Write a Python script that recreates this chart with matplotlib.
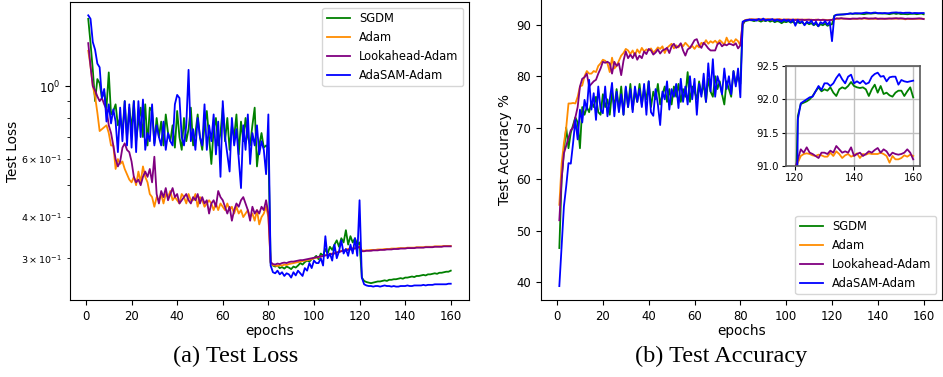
import matplotlib
matplotlib.use("Agg")
import matplotlib.pyplot as plt

epochs = list(range(1, 161))
labels = ["SGDM", "Adam", "Lookahead-Adam", "AdaSAM-Adam"]
colors = ["green", "darkorange", "purple", "blue"]

sgdm_loss = [
    1.60, 1.35, 1.12, 0.90, 1.05, 1.02, 0.92, 0.96, 0.86, 1.10,
    0.82, 0.84, 0.88, 0.76, 0.80, 0.72, 0.90, 0.70, 0.86, 0.74,
    0.90, 0.68, 0.78, 0.86, 0.70, 0.88, 0.66, 0.86, 0.84, 0.67,
    0.80, 0.70, 0.78, 0.66, 0.82, 0.72, 0.68, 0.76, 0.65, 0.84,
    0.70, 0.64, 0.80, 0.68, 0.74, 0.86, 0.66, 0.72, 0.82, 0.70,
    0.64, 0.76, 0.84, 0.70, 0.58, 0.74, 0.80, 0.66, 0.72, 0.86,
    0.68, 0.80, 0.64, 0.76, 0.70, 0.82, 0.62, 0.78, 0.68, 0.80,
    0.70, 0.66, 0.76, 0.86, 0.57, 0.66, 0.72, 0.65, 0.66, 0.65,
    0.290, 0.285, 0.283, 0.285, 0.280, 0.282, 0.279, 0.283, 0.281, 0.278,
    0.283, 0.281, 0.285, 0.290, 0.287, 0.292, 0.295, 0.293, 0.298, 0.300,
    0.305, 0.298, 0.310, 0.305, 0.320, 0.310, 0.325, 0.318, 0.330, 0.340,
    0.325, 0.345, 0.335, 0.365, 0.330, 0.350, 0.335, 0.345, 0.330, 0.335,
    0.262, 0.256, 0.254, 0.253, 0.252, 0.253, 0.254, 0.255, 0.255, 0.256,
    0.257, 0.256, 0.258, 0.258, 0.259, 0.259, 0.260, 0.261, 0.260, 0.262,
    0.262, 0.263, 0.264, 0.263, 0.265, 0.265, 0.266, 0.267, 0.266, 0.268,
    0.268, 0.269, 0.270, 0.269, 0.271, 0.271, 0.272, 0.273, 0.273, 0.275,
]
adam_loss = [
    1.28, 1.15, 1.00, 0.93, 0.83, 0.73, 0.74, 0.75, 0.76, 0.72,
    0.66, 0.66, 0.56, 0.60, 0.58, 0.59, 0.56, 0.54, 0.52, 0.51,
    0.53, 0.50, 0.55, 0.51, 0.57, 0.53, 0.51, 0.47, 0.46, 0.43,
    0.46, 0.45, 0.47, 0.44, 0.47, 0.46, 0.48, 0.45, 0.46, 0.45,
    0.44, 0.47, 0.46, 0.44, 0.47, 0.45, 0.45, 0.47, 0.43, 0.46,
    0.45, 0.43, 0.44, 0.45, 0.44, 0.42, 0.44, 0.42, 0.44, 0.43,
    0.42, 0.44, 0.42, 0.43, 0.41, 0.43, 0.41, 0.42, 0.40, 0.41,
    0.42, 0.40, 0.41, 0.39, 0.42, 0.38, 0.40, 0.41, 0.43, 0.40,
    0.290, 0.286, 0.285, 0.284, 0.286, 0.285, 0.287, 0.286, 0.288, 0.289,
    0.290, 0.291, 0.292, 0.293, 0.294, 0.295, 0.296, 0.297, 0.298, 0.300,
    0.301, 0.302, 0.303, 0.305, 0.306, 0.307, 0.309, 0.310, 0.311, 0.313,
    0.314, 0.316, 0.317, 0.319, 0.320, 0.321, 0.322, 0.324, 0.325, 0.326,
    0.317, 0.316, 0.317, 0.317, 0.318, 0.318, 0.318, 0.319, 0.319, 0.319,
    0.320, 0.320, 0.320, 0.321, 0.321, 0.321, 0.322, 0.322, 0.322, 0.322,
    0.323, 0.323, 0.323, 0.323, 0.324, 0.324, 0.324, 0.324, 0.325, 0.325,
    0.325, 0.325, 0.326, 0.326, 0.326, 0.326, 0.327, 0.327, 0.327, 0.327,
]
lookahead_loss = [
    1.35, 1.15, 1.00, 0.97, 0.93, 0.90, 0.92, 0.88, 0.85, 0.76,
    0.72, 0.66, 0.60, 0.57, 0.59, 0.65, 0.67, 0.64, 0.63, 0.59,
    0.53, 0.51, 0.52, 0.50, 0.53, 0.55, 0.53, 0.56, 0.51, 0.61,
    0.47, 0.44, 0.48, 0.46, 0.49, 0.45, 0.47, 0.49, 0.46, 0.47,
    0.44, 0.45, 0.46, 0.47, 0.45, 0.44, 0.46, 0.45, 0.47, 0.44,
    0.46, 0.44, 0.45, 0.41, 0.44, 0.45, 0.43, 0.48, 0.46, 0.45,
    0.43, 0.41, 0.43, 0.39, 0.42, 0.44, 0.43, 0.45, 0.46, 0.44,
    0.42, 0.39, 0.43, 0.41, 0.42, 0.41, 0.43, 0.42, 0.45, 0.41,
    0.292, 0.288, 0.287, 0.289, 0.288, 0.290, 0.291, 0.290, 0.292, 0.293,
    0.293, 0.294, 0.295, 0.296, 0.296, 0.297, 0.298, 0.299, 0.300, 0.301,
    0.302, 0.303, 0.304, 0.305, 0.306, 0.307, 0.308, 0.309, 0.310, 0.312,
    0.313, 0.315, 0.316, 0.317, 0.318, 0.319, 0.320, 0.321, 0.322, 0.325,
    0.315, 0.315, 0.316, 0.316, 0.316, 0.317, 0.317, 0.317, 0.318, 0.318,
    0.318, 0.319, 0.319, 0.319, 0.320, 0.320, 0.320, 0.321, 0.321, 0.321,
    0.322, 0.322, 0.322, 0.322, 0.323, 0.323, 0.323, 0.323, 0.324, 0.324,
    0.324, 0.324, 0.325, 0.325, 0.325, 0.325, 0.326, 0.326, 0.326, 0.326,
]
adasam_loss = [
    1.64, 1.60, 1.36, 1.29, 1.17, 1.14, 0.92, 0.98, 0.78, 0.88,
    0.77, 0.85, 0.78, 0.63, 0.86, 0.68, 0.90, 0.66, 0.88, 0.65,
    0.90, 0.63, 0.90, 0.70, 0.91, 0.64, 0.72, 0.68, 0.88, 0.66,
    0.76, 0.70, 0.66, 0.78, 0.64, 0.72, 0.68, 0.66, 0.88, 0.94,
    0.92, 0.70, 0.66, 0.76, 1.12, 0.68, 0.74, 0.64, 0.80, 0.70,
    0.66, 0.88, 0.64, 0.76, 0.68, 0.82, 0.62, 0.78, 0.53, 0.90,
    0.70, 0.62, 0.55, 0.80, 0.66, 0.74, 0.60, 0.49, 0.76, 0.64,
    0.82, 0.58, 0.72, 0.66, 0.76, 0.62, 0.68, 0.64, 0.54, 0.82,
    0.285, 0.272, 0.270, 0.275, 0.268, 0.272, 0.265, 0.270, 0.268, 0.262,
    0.272, 0.266, 0.275, 0.270, 0.265, 0.280, 0.275, 0.290, 0.280, 0.295,
    0.290, 0.290, 0.300, 0.285, 0.350, 0.300, 0.310, 0.295, 0.330, 0.300,
    0.315, 0.340, 0.310, 0.320, 0.305, 0.330, 0.310, 0.345, 0.305, 0.450,
    0.262, 0.250, 0.248, 0.247, 0.247, 0.246, 0.247, 0.247, 0.246, 0.247,
    0.248, 0.247, 0.247, 0.246, 0.247, 0.246, 0.246, 0.247, 0.247, 0.247,
    0.248, 0.247, 0.247, 0.248, 0.248, 0.248, 0.248, 0.249, 0.248, 0.249,
    0.249, 0.249, 0.250, 0.250, 0.250, 0.250, 0.250, 0.250, 0.251, 0.251,
]

sgdm_acc = [
    46.6, 60.0, 65.5, 70.0, 66.0, 69.0, 70.5, 72.0, 71.0, 66.0,
    74.0, 72.5, 74.0, 73.0, 75.0, 74.0, 76.0, 73.0, 72.5, 76.5,
    74.0, 75.5, 72.5, 77.0, 74.0, 77.5, 73.5, 78.0, 72.5, 77.8,
    74.0, 78.5, 73.5, 77.0, 75.0, 78.5, 74.5, 77.5, 75.5, 79.0,
    74.0, 77.0, 75.5, 78.5, 74.5, 76.5, 78.0, 75.0, 77.5, 74.5,
    78.0, 76.0, 78.5, 75.0, 77.5, 76.0, 80.8, 75.0, 78.0, 77.0,
    75.5, 79.0, 76.5, 78.5, 75.0, 79.5, 77.0, 76.0, 80.0, 77.5,
    79.0, 76.5, 74.5, 79.0, 77.5, 76.0, 81.0, 78.5, 80.0, 78.5,
    90.0, 90.7, 90.8, 90.9, 90.85, 90.7, 90.9, 90.8, 90.6, 90.85,
    90.7, 90.9, 90.6, 90.8, 90.5, 90.7, 90.6, 90.3, 90.6, 90.5,
    90.7, 90.4, 90.6, 90.2, 90.5, 90.3, 90.5, 90.0, 90.4, 90.1,
    90.3, 89.9, 90.2, 89.7, 90.1, 89.9, 90.2, 89.8, 90.0, 90.1,
    91.75, 91.93, 91.95, 91.97, 92.00, 92.05, 92.12, 92.18, 92.12, 92.15,
    92.13, 92.18, 92.10, 92.05, 92.15, 92.18, 92.16, 92.20, 92.26, 92.20,
    92.18, 92.17, 92.18, 92.15, 92.05, 92.15, 92.22, 92.10, 92.20, 92.08,
    92.10, 92.06, 92.04, 92.10, 92.13, 92.13, 92.05, 92.12, 92.18, 92.03,
]
adam_acc = [
    55.0, 63.0, 67.0, 70.0, 74.7, 74.7, 74.8, 74.7, 76.0, 78.0,
    78.2, 80.0, 81.0, 80.5, 80.5, 81.0, 80.8, 82.0, 82.5, 83.2,
    83.0, 82.5, 80.8, 83.6, 81.5, 82.0, 83.0, 84.0, 84.5, 85.3,
    85.0, 84.3, 85.0, 84.0, 85.2, 84.5, 85.5, 84.8, 85.2, 85.0,
    85.4, 84.6, 85.0, 85.6, 85.3, 85.8, 84.5, 85.5, 85.9, 86.3,
    85.4, 86.0, 85.6, 86.3, 85.8, 86.5, 86.0, 85.5, 85.9, 85.3,
    86.0, 85.6, 86.5, 86.2, 87.0, 86.3, 86.8, 86.5, 86.9, 86.4,
    87.0, 86.6, 86.1, 87.5, 86.5, 87.0, 86.5, 87.2, 86.8, 86.0,
    90.4, 90.9, 91.0, 91.0, 91.1, 91.0, 91.05, 91.0, 91.1, 91.0,
    91.05, 91.1, 91.0, 90.95, 91.05, 91.0, 91.1, 91.0, 90.95, 91.05,
    91.0, 91.0, 90.95, 91.05, 91.0, 91.0, 90.95, 91.0, 91.0, 90.95,
    91.0, 90.9, 91.0, 90.95, 90.9, 91.0, 90.95, 90.9, 90.95, 90.95,
    91.05, 91.15, 91.18, 91.19, 91.18, 91.16, 91.15, 91.17, 91.16, 91.14,
    91.14, 91.20, 91.15, 91.22, 91.18, 91.12, 91.16, 91.18, 91.14, 91.16,
    91.19, 91.12, 91.18, 91.17, 91.19, 91.18, 91.18, 91.18, 91.20, 91.18,
    91.15, 91.05, 91.15, 91.10, 91.10, 91.12, 91.16, 91.14, 91.17, 91.15,
]
lookahead_acc = [
    52.0, 60.0, 65.0, 66.5, 68.0, 69.5, 70.0, 72.0, 74.0, 78.0,
    79.5, 79.8, 80.5, 78.0, 78.5, 79.0, 79.3, 80.5, 81.5, 82.8,
    82.6, 82.8, 82.5, 80.5, 82.8, 82.0, 82.5, 80.2, 83.0, 84.8,
    83.5, 84.2, 83.5, 84.5, 83.2, 84.0, 83.5, 84.8, 84.3, 85.3,
    85.0, 84.2, 84.6, 85.2, 84.4, 85.0, 85.2, 85.5, 84.5, 85.8,
    86.3, 85.5, 85.8, 86.4, 85.0, 84.0, 85.2, 85.5, 86.2, 87.0,
    87.2, 86.0, 85.5, 86.5, 86.0, 85.4, 85.0, 85.0, 85.0, 86.2,
    86.5, 85.8, 86.2, 86.0, 86.3, 86.2, 86.0, 86.4, 85.4, 86.0,
    90.3, 90.8, 90.9, 91.0, 91.0, 90.95, 91.0, 91.05, 90.95, 91.0,
    91.0, 90.95, 91.05, 91.0, 90.95, 91.0, 91.0, 90.9, 91.0, 90.95,
    91.0, 90.95, 91.0, 90.9, 91.0, 90.95, 91.0, 90.9, 90.95, 91.0,
    90.9, 90.95, 90.9, 91.0, 90.9, 90.95, 90.9, 90.85, 90.9, 90.95,
    91.10, 91.25, 91.20, 91.28, 91.20, 91.18, 91.15, 91.12, 91.20, 91.20,
    91.18, 91.23, 91.20, 91.30, 91.25, 91.20, 91.22, 91.20, 91.28, 91.15,
    91.18, 91.20, 91.15, 91.18, 91.22, 91.20, 91.24, 91.27, 91.20, 91.25,
    91.22, 91.15, 91.20, 91.18, 91.17, 91.18, 91.20, 91.25, 91.20, 91.10,
]
adasam_acc = [
    39.2, 47.0, 54.7, 58.6, 63.1, 63.0, 67.0, 71.5, 67.7, 73.5,
    71.0, 75.4, 73.5, 79.3, 73.5, 76.7, 71.5, 78.0, 73.5, 72.8,
    78.0, 72.2, 75.4, 78.7, 72.2, 77.0, 73.0, 76.5, 72.5, 78.0,
    74.0, 77.5, 73.0, 78.0, 75.0, 77.5, 74.0, 78.5, 72.5, 79.0,
    73.0, 72.3, 77.5, 74.5, 70.5, 77.0, 75.5, 79.0, 73.5, 77.5,
    76.0, 78.5, 73.8, 79.5, 75.0, 78.0, 74.5, 80.0, 75.5, 79.5,
    72.5, 78.5, 76.0, 80.5, 75.0, 82.5, 77.0, 83.3, 76.0, 80.0,
    78.5, 76.5, 81.5, 77.5, 80.0, 76.5, 81.0, 78.0, 81.5, 75.9,
    90.6, 90.8, 90.9, 91.0, 90.9, 91.0, 90.8, 91.1, 90.9, 91.2,
    90.8, 91.0, 90.9, 91.1, 90.7, 91.0, 90.8, 90.6, 91.0, 90.7,
    90.9, 90.5, 91.0, 89.8, 90.9, 90.4, 90.7, 89.9, 90.6, 90.3,
    90.8, 90.0, 90.6, 89.7, 90.5, 90.2, 90.7, 90.0, 90.6, 86.8,
    91.70, 91.94, 91.97, 92.00, 92.03, 92.04, 92.12, 92.20, 92.14, 92.24,
    92.24, 92.20, 92.24, 92.32, 92.38, 92.30, 92.24, 92.34, 92.37, 92.24,
    92.27, 92.24, 92.28, 92.23, 92.25, 92.34, 92.38, 92.40, 92.34, 92.35,
    92.27, 92.33, 92.34, 92.34, 92.22, 92.29, 92.27, 92.26, 92.27, 92.28,
]

losses = [sgdm_loss, adam_loss, lookahead_loss, adasam_loss]
accs = [sgdm_acc, adam_acc, lookahead_acc, adasam_acc]

W, H = 943, 377
fig = plt.figure(figsize=(W / 100, H / 100), dpi=100)

# (a) test loss
ax1 = fig.add_axes([70 / W, 1 - 300 / H, 399 / W, 298 / H])
for y, c, lab in zip(losses, colors, labels):
    ax1.plot(epochs, y, color=c, lw=1.3, label=lab)
ax1.set_yscale("log")
ax1.set_xlim(-7, 168)
ax1.set_ylim(0.224, 1.80)
ax1.set_xticks([0, 20, 40, 60, 80, 100, 120, 140, 160])
ax1.tick_params(axis="both", which="major", labelsize=8.4)
ax1.tick_params(axis="y", which="minor", labelsize=6.8)
ax1.set_xlabel("epochs", fontsize=9.8, labelpad=1)
ax1.set_ylabel("Test Loss", fontsize=9.8, labelpad=1)
ax1.legend(loc="upper right", fontsize=8.3, handlelength=2.0)

# (b) test accuracy
ax2 = fig.add_axes([541 / W, 1 - 300 / H, 401 / W, 301.5 / H])
for y, c, lab in zip(accs, colors, labels):
    ax2.plot(epochs, y, color=c, lw=1.3, label=lab)
ax2.set_xlim(-7, 168)
ax2.set_ylim(36.5, 95.1)
ax2.set_xticks([0, 20, 40, 60, 80, 100, 120, 140, 160])
ax2.tick_params(labelsize=8.4)
ax2.set_xlabel("epochs", fontsize=9.8, labelpad=1)
ax2.set_ylabel("Test Accuracy %", fontsize=9.8, labelpad=3)
ax2.legend(loc="lower right", fontsize=8.3, handlelength=2.0)

# inset zoom on last 40 epochs
axin = fig.add_axes([786 / W, 1 - 166 / H, 134 / W, 100 / H])
for y, c in zip(accs, colors):
    axin.plot(epochs, y, color=c, lw=1.3)
axin.set_xlim(117, 162.3)
axin.set_ylim(91.0, 92.5)
axin.set_xticks([120, 140, 160])
axin.set_yticks([91.0, 91.5, 92.0, 92.5])
axin.set_yticklabels(["91.0", "91.5", "92.0", "92.5"])
axin.grid(True, color="0.75", lw=1.0)
axin.tick_params(labelsize=7.3, length=3, pad=2)
for s in axin.spines.values():
    s.set_color("0.35")
    s.set_linewidth(1.2)

fig.text(236 / W, 1 - 356 / H, "(a) Test Loss", family="Liberation Serif",
         fontsize=17.5, ha="center", va="center")
fig.text(721 / W, 1 - 356 / H, "(b) Test Accuracy", family="Liberation Serif",
         fontsize=17.5, ha="center", va="center")

fig.savefig("out.png", dpi=100)
